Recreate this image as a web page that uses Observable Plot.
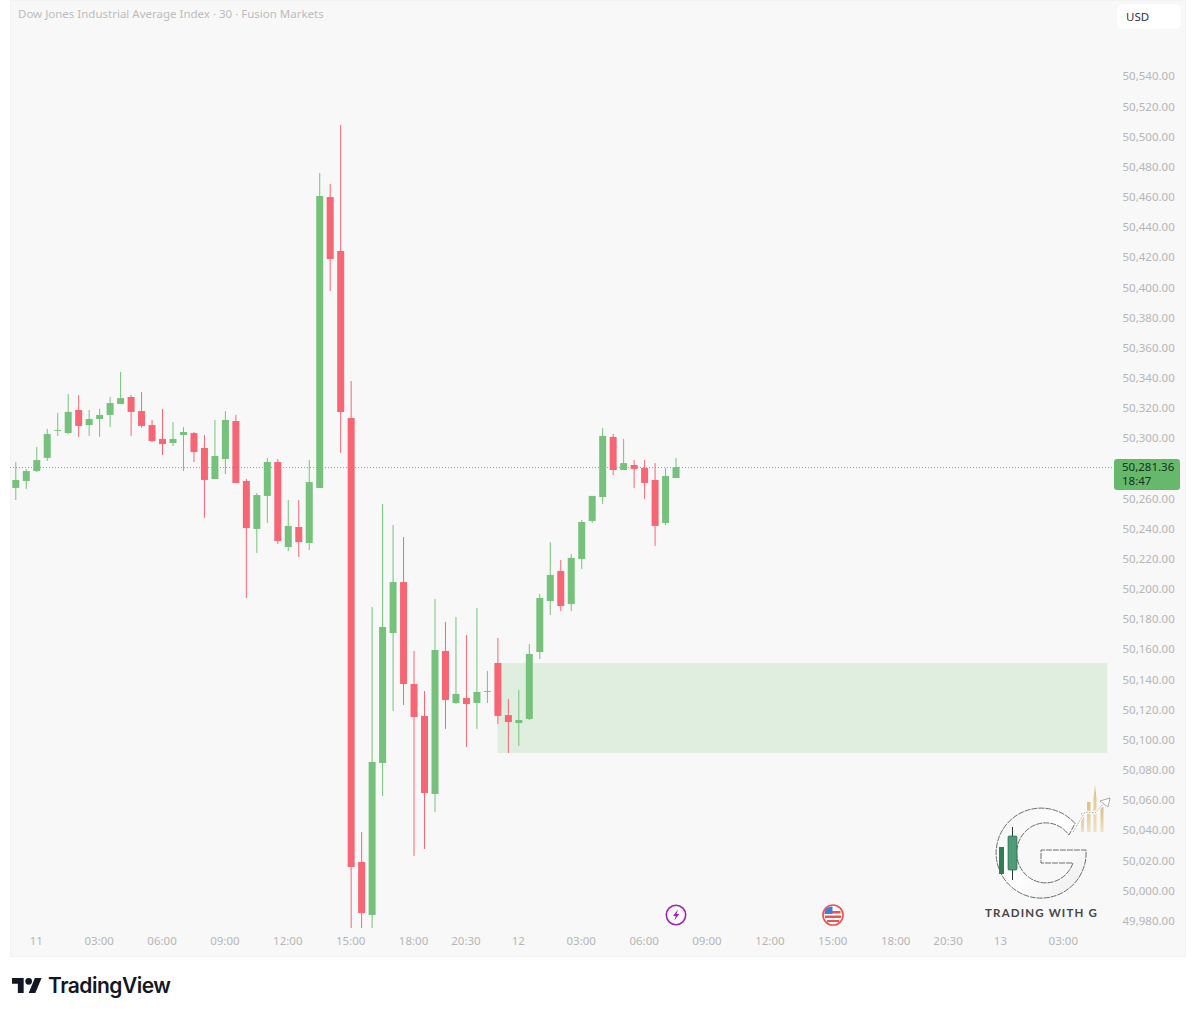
<!DOCTYPE html>
<html><head><meta charset="utf-8">
<script src="https://cdn.jsdelivr.net/npm/d3@7"></script>
<script src="https://cdn.jsdelivr.net/npm/@observablehq/plot@0.6"></script>
<style>
html,body{margin:0;padding:0;background:#fff;overflow:hidden}
#page{position:relative;width:1195px;height:1016px;overflow:hidden;font-family:"Noto Sans",sans-serif}
#chart svg{display:block}
.abs{position:absolute}
#title{left:18px;top:6px;font-size:11.5px;line-height:16px;color:#bcbcbc;white-space:nowrap}
#usd{left:1117px;top:4px;width:64px;height:25px;background:#fff;border-radius:5px;font-size:11.5px;line-height:25px;color:#333;text-indent:9px;box-shadow:0 0 1px #eee}
#tag{left:1114px;top:459px;width:66px;height:31px;background:#66b96c;border-radius:3px;color:#14301a;font-size:11.5px;line-height:13.5px;padding:1px 0 0 8px;box-sizing:border-box}
#tv{left:48px;top:970px;font-family:Inter,sans-serif;font-weight:600;font-size:21px;line-height:32px;letter-spacing:-.5px;color:#131722}
</style></head><body>
<div id="page">
<div id="chart"></div>
<div id="title" class="abs">Dow Jones Industrial Average Index · 30 · Fusion Markets</div>
<div id="usd" class="abs">USD</div>
<div id="tag" class="abs"><div id="tagPrice"></div><div id="tagTime"></div></div>

<svg class="abs" style="left:0;top:0;pointer-events:none" width="1195" height="1016">
  <defs>
    <linearGradient id="ring" x1="0" y1="0" x2="1" y2="1"><stop offset="0" stop-color="#f2f2f2"/><stop offset=".5" stop-color="#ffffff"/><stop offset="1" stop-color="#ececec"/></linearGradient>
    <linearGradient id="gold" x1="0" y1="0" x2="0" y2="1"><stop offset="0" stop-color="#d8c184"/><stop offset="1" stop-color="#eee3c4"/></linearGradient>
  </defs>
  <circle cx="676" cy="915" r="9.7" fill="none" stroke="#9c27b0" stroke-width="1.6"/>
  <path d="M678 909.5l-5 6.500h2.800l-1.500 4.500 5-6.500h-2.800z" fill="#9c27b0"/>
  <circle cx="833" cy="915" r="10" fill="#fff" stroke="#ef5350" stroke-width="1.7"/>
  <path d="M826 911h14.500v2.400H826zM825 915.500h16v2.400h-16zM827 920h12v2h-12z" fill="#ef5350"/>
  <path d="M825.500 909a8.500 8.500 0 0 1 7-2.500v7.500h-8z" fill="#3f7fd8"/>
  <g>
    <rect x="1081" y="813" width="3" height="19" fill="url(#gold)"/>
    <rect x="1087" y="802" width="3.500" height="30" fill="url(#gold)"/>
    <path d="M1093.500 832V798l1.500-13 1.500 13v34z" fill="url(#gold)"/>
    <rect x="1100.500" y="807" width="3" height="25" fill="url(#gold)"/>
    <path d="M1075 823.500A45 45 0 1 0 1086 850H1041V863H1073A29 30 0 1 1 1069 835Z" fill="url(#ring)" stroke="#5e5e5e" stroke-width=".9" stroke-dasharray="6 1"/>
    <rect x="999" y="847" width="5" height="27" fill="#2f7d52"/>
    <line x1="1012.500" y1="827" x2="1012.500" y2="880" stroke="#333"/>
    <rect x="1008" y="836" width="9" height="34" rx="1" fill="#4f9c78" stroke="#24553f" stroke-width=".6"/>
    <path d="M1073 832L1085 812 1095 813 1104 803" fill="none" stroke="#fff" stroke-width="3"/>
    <path d="M1073 832L1085 812 1095 813 1104 803" fill="none" stroke="#777" stroke-width=".6" stroke-dasharray="2 1"/>
    <path d="M1100 801l10-3-2 9z" fill="#fff" stroke="#777" stroke-width=".6"/>
    <text x="1041.500" y="917" text-anchor="middle" font-family="Lato,sans-serif" font-weight="700" font-size="11.500" letter-spacing="1.150" fill="#474747">TRADING WITH G</text>
  </g>
  <g transform="translate(12 974.700) scale(.8333)" fill="#131722">
    <path d="M14 22H7V11H0V4h14v18zM28 22h-8l7.500-18h8L28 22z"/><circle cx="20" cy="8" r="4"/>
  </g>
</svg>
<div id="tv" class="abs">TradingView</div>
</div>
<script>
const opens=[50267.5,50272.1,50278.7,50287.4,50305.3,50303.9,50319.2,50309.2,50313.2,50315.9,50323.2,50327.8,50318.5,50309.2,50300.0,50297.3,50302.6,50303.9,50294.0,50273.4,50286.7,50311.9,50272.1,50240.3,50262.2,50284.7,50228.3,50241.6,50231.0,50267.5,50460.4,50424.6,50313.9,50019.5,49984.3,50085.1,50171.3,50205.1,50137.5,50116.3,50064.5,50159.4,50124.9,50128.2,50124.9,50132.2,50151.4,50116.9,50111.6,50114.3,50158.7,50192.5,50212.4,50190.5,50220.4,50245.6,50261.5,50301.3,50279.4,50282.7,50280.7,50272.8,50244.3,50274.1];
const highs=[50284.7,50280.1,50294.6,50306.6,50317.2,50329.8,50329.1,50319.2,50319.9,50327.8,50344.4,50329.1,50331.1,50312.6,50319.9,50311.2,50307.9,50304.6,50302.6,50312.6,50318.5,50315.9,50273.4,50264.1,50287.4,50286.7,50259.5,50259.5,50286.0,50476.3,50469.1,50508.2,50338.4,50039.4,50188.6,50256.9,50242.9,50235.0,50159.4,50132.8,50193.9,50178.6,50181.9,50170.0,50187.9,50146.1,50168.0,50127.6,50133.5,50164.0,50197.2,50231.6,50219.7,50223.7,50246.2,50262.2,50307.3,50303.3,50300.0,50286.0,50286.0,50284.0,50280.7,50287.4];
const lows=[50259.5,50266.8,50278.1,50285.4,50302.0,50303.3,50301.3,50302.0,50301.3,50307.9,50323.2,50302.0,50307.3,50298.0,50289.3,50295.3,50278.7,50284.7,50247.6,50273.4,50276.7,50270.8,50194.5,50224.4,50244.3,50230.3,50225.7,50221.7,50226.3,50267.5,50398.1,50290.7,49975.7,49975.7,49975.7,50063.2,50119.6,50123.6,50023.4,50028.1,50052.6,50107.7,50124.2,50095.7,50107.7,50124.9,50111.0,50091.7,50096.4,50113.6,50154.1,50183.2,50185.9,50185.9,50213.7,50244.3,50256.9,50276.1,50279.4,50267.5,50260.2,50229.0,50242.9,50274.1];
const closes=[50272.8,50278.7,50286.0,50303.3,50305.9,50317.9,50308.6,50313.2,50315.9,50323.8,50327.1,50317.9,50308.6,50298.6,50296.6,50300.0,50304.6,50291.3,50272.8,50288.7,50312.6,50270.8,50240.9,50262.8,50284.7,50232.3,50242.3,50231.6,50271.4,50461.1,50419.3,50317.9,50016.1,49985.6,50085.8,50175.3,50205.1,50137.5,50115.6,50065.2,50160.0,50126.9,50130.9,50124.2,50132.2,50132.8,50116.3,50112.3,50113.6,50157.4,50194.5,50209.8,50189.2,50221.1,50244.9,50262.2,50302.0,50279.4,50284.0,50280.1,50270.8,50242.3,50275.4,50281.36];
const priceTicks=[50540,50520,50500,50480,50460,50440,50420,50400,50380,50360,50340,50320,50300,50260,50240,50220,50200,50180,50160,50140,50120,50100,50080,50060,50040,50020,50000,49980];
const timeTickIndex=[2,8,14,20,26,32,38,43,48,54,60,66,72,78,84,89,94,100];
const timeTickLabels=["11","03:00","06:00","09:00","12:00","15:00","18:00","20:30","12","03:00","06:00","09:00","12:00","15:00","18:00","20:30","13","03:00"];
const zoneStart=46, zoneEnd=104.2, zoneTop=50151.4, zoneBottom=50091.7;
const lastPrice=50281.36, countdown="18:47", priceLineStart=-0.5, priceLineEnd=104.7;

const UP="#76c27c", DOWN="#f76675";
const idx=opens.map((_,i)=>i);
const col=i=>closes[i]>=opens[i]?UP:DOWN;
const font={fontFamily:'"Noto Sans",sans-serif',fontSize:11.5,fill:"#b6b6b6",tickSize:0,label:null};

const chart=Plot.plot({
  width:1195,height:957,
  marginLeft:10,marginRight:10,marginTop:0,marginBottom:1,
  style:{background:"transparent"},
  x:{type:"linear",domain:[0,100],range:[15.3,1063.3],axis:null},
  y:{type:"linear",domain:[49980,50540],range:[921.5,77],axis:null},
  color:{type:"identity"},
  marks:[
    Plot.frame({fill:"#f8f8f8",stroke:"#f3f3f3"}),
    Plot.rect([0],{x1:()=>zoneStart,x2:()=>zoneEnd,y1:()=>zoneBottom,y2:()=>zoneTop,fill:"#dfeedf"}),
    Plot.ruleY([lastPrice],{x1:()=>priceLineStart,x2:()=>priceLineEnd,stroke:"#7fa883",strokeWidth:1,strokeDasharray:"1 2"}),
    Plot.ruleX(idx,{x:i=>i,y1:i=>lows[i],y2:i=>highs[i],stroke:col,strokeWidth:1}),
    Plot.ruleX(idx,{x:i=>i,y1:i=>Math.min(opens[i],closes[i]),y2:i=>Math.max(opens[i],closes[i]),stroke:col,strokeWidth:7}),
    Plot.axisY(priceTicks,{...font,anchor:"right",tickPadding:0,dx:-63,dy:-0.8,tickFormat:d3.format(",.2f")}),
    Plot.axisX(timeTickIndex,{...font,anchor:"bottom",tickPadding:0,dy:-20,dx:-0.5,tickFormat:d=>timeTickLabels[timeTickIndex.indexOf(d)]})
  ]
});
document.getElementById("chart").append(chart);
document.getElementById("tagPrice").textContent=d3.format(",.2f")(lastPrice);
document.getElementById("tagTime").textContent=countdown;
</script>
</body></html>
